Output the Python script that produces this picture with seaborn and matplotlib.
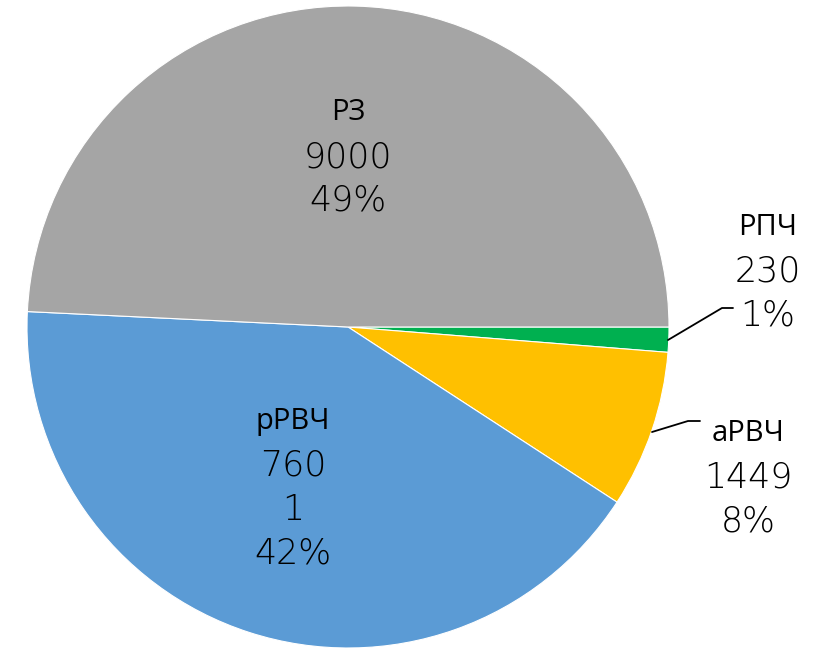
import matplotlib
matplotlib.use("Agg")
import matplotlib.pyplot as plt
import seaborn as sns

categories = ["РПЧ", "аРВЧ", "рРВЧ", "РЗ"]
values = [230, 1449, 7601, 9000]
value_lines = [["230"], ["1449"], ["760", "1"], ["9000"]]
percent_labels = ["1%", "8%", "42%", "49%"]
colors = ["#00B050", "#FFC000", "#5B9BD5", "#A5A5A5"]

sns.set_theme(style="white")
plt.rcParams["font.family"] = ["DejaVu Sans"]

W, H = 828, 648
fig = plt.figure(figsize=(W / 100, H / 100), dpi=100)
cx, cy, R = 348, 327, 321
ax = fig.add_axes([(cx - R) / W, (H - cy - R) / H, 2 * R / W, 2 * R / H])

ax.pie(values, colors=colors, startangle=0, counterclock=False, radius=1.0,
       wedgeprops=dict(edgecolor="white", linewidth=0.8))
ax.set_xlim(-1, 1)
ax.set_ylim(-1, 1)
ax.set_aspect("equal")
ax.axis("off")

def px(x, y):
    return ((x - cx) / R, (cy - y) / R)

label_pos = {
    "РПЧ": (768, 272),
    "аРВЧ": (748, 478),
    "рРВЧ": (293, 488),
    "РЗ": (348, 157),
}
leaders = {
    "РПЧ": [(668, 340), (722, 308), (733, 308)],
    "аРВЧ": [(652, 432), (688, 421), (700, 421)],
}
step = 44
for cat, vl, pct in zip(categories, value_lines, percent_labels):
    lines = [(cat, "name")] + [(v, "num") for v in vl] + [(pct, "num")]
    x0, yc = label_pos[cat]
    n = len(lines)
    for i, (t, kind) in enumerate(lines):
        y = yc + (i - (n - 1) / 2) * step
        if kind == "name":
            ax.text(*px(x0, y), t, ha="center", va="center", fontsize=21,
                    family=["Open Sans", "DejaVu Sans"], color="black")
        else:
            ax.text(*px(x0, y), t, ha="center", va="center", fontsize=25,
                    family=["DejaVu Sans"], fontweight="light", color="black")
    if cat in leaders:
        pts = [px(*p) for p in leaders[cat]]
        ax.plot([p[0] for p in pts], [p[1] for p in pts], color="black", lw=1.3,
                clip_on=False)

fig.savefig("out.png", dpi=100)
